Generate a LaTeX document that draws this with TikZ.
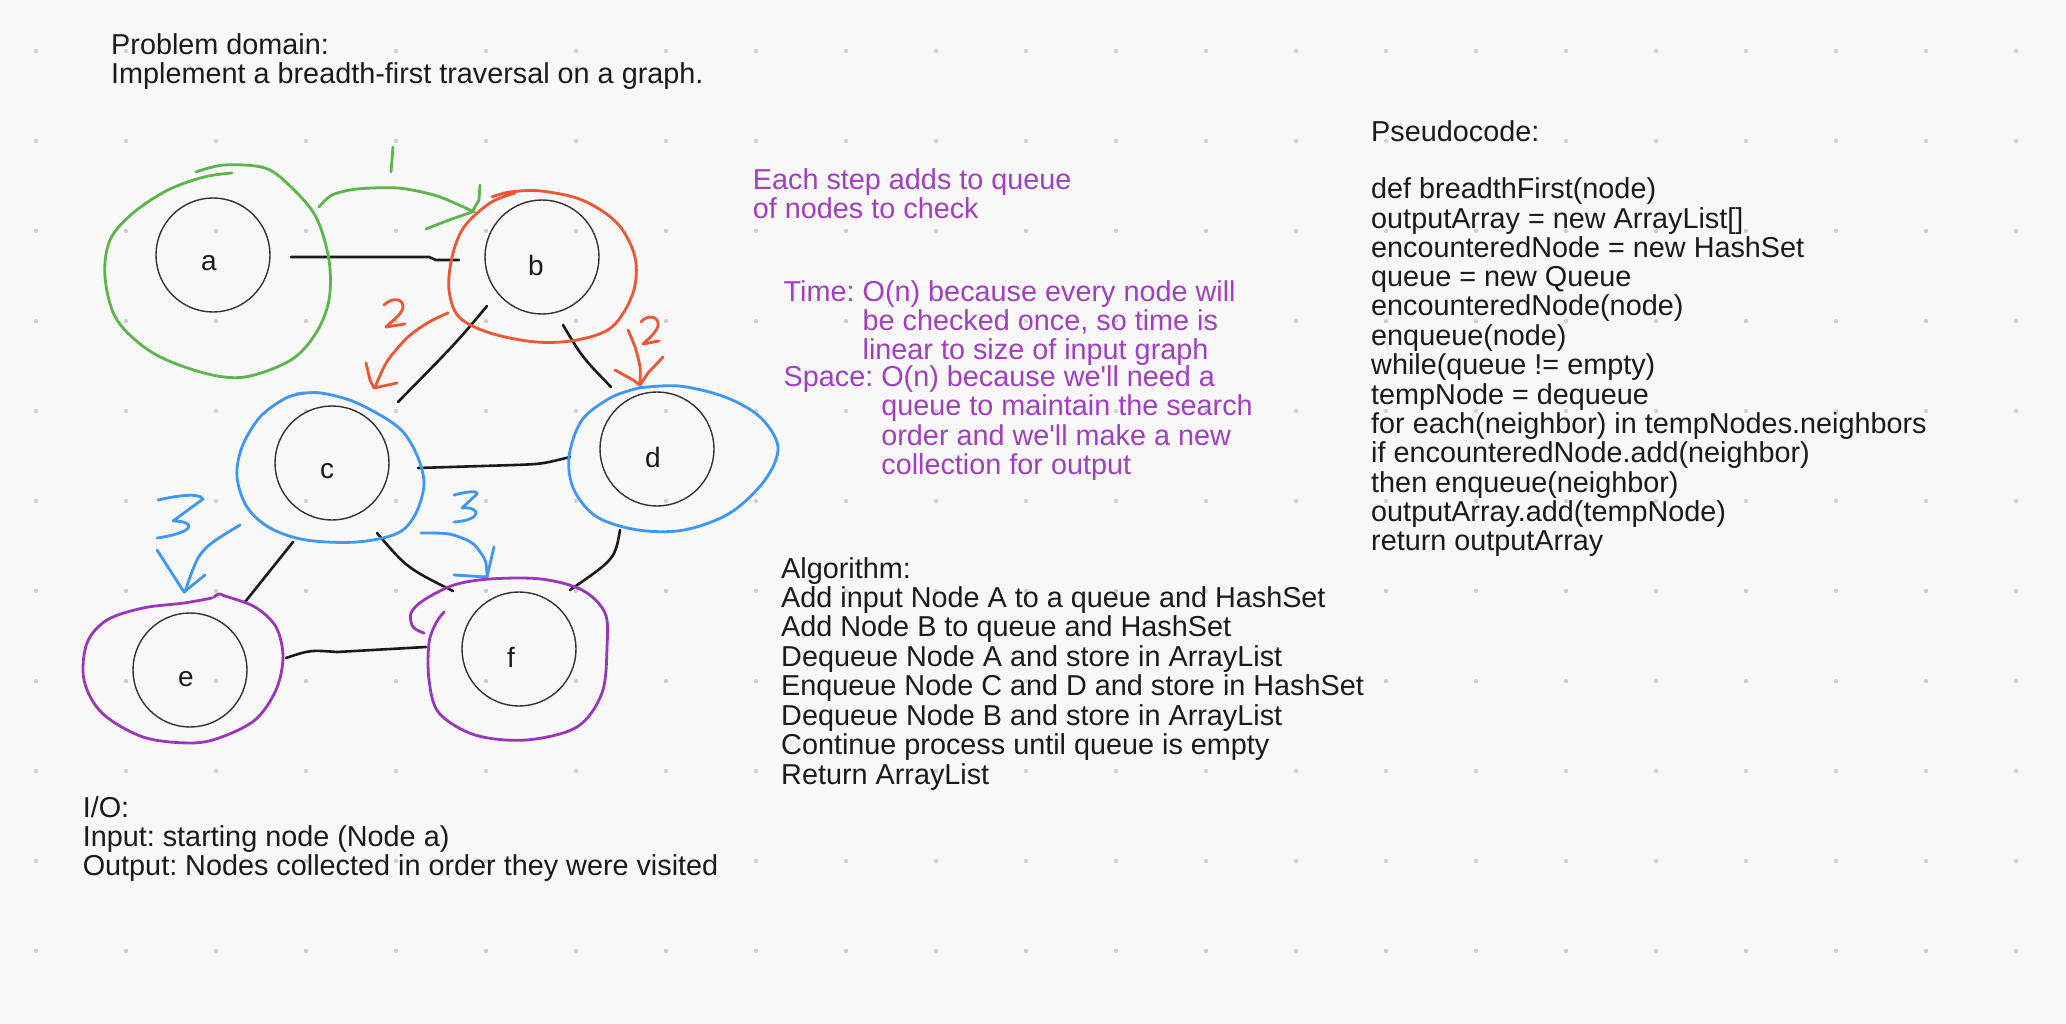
\documentclass[tikz,border=0pt]{standalone}
\usepackage{fontspec}
\setmainfont{Liberation Sans}
\usetikzlibrary{calc}
\definecolor{bg}{HTML}{F8F8F8}
\definecolor{dotc}{HTML}{D0D0D0}
\definecolor{hgreen}{HTML}{5CB54B}
\definecolor{hred}{HTML}{EE5533}
\definecolor{hblue}{HTML}{3D97F5}
\definecolor{hpurple}{HTML}{9B35BE}
\definecolor{tpurple}{HTML}{A23EC2}
\definecolor{ink}{HTML}{1A1A1A}
\begin{document}
\frenchspacing
\begin{tikzpicture}[x=1pt,y=-1pt,
  txt/.style={anchor=north west, inner sep=0, font=\fontsize{28.8}{28.5}\selectfont, text=ink},
  ptxt/.style={txt, text=tpurple},
  vert/.style={circle, draw=black!80, line width=1.4, minimum size=114, inner sep=0},
  vlbl/.style={inner sep=0, font=\fontsize{28}{28}\selectfont, text=ink},
  edge/.style={draw=ink, line width=2.6, line cap=round, line join=round},
  hand/.style={line width=2.8, line cap=round, line join=round},
]
% background and dot grid
\fill[bg] (0,0) rectangle (2066,1024);
\useasboundingbox (0,0) rectangle (2066,1024);
\foreach \i in {0,...,22}{\foreach \j in {0,...,10}{\fill[dotc] ({36+90*\i},{51+90*\j}) circle (2.2);}}

% texts
\node[txt] (prob) at (111,33.3) {\begin{tabular}{@{}l@{}}Problem domain:\\Implement a breadth-first traversal on a graph.\end{tabular}};
\node[ptxt] (each) at (752.7,168.3) {\begin{tabular}{@{}l@{}}Each step adds to queue\\of nodes to check\end{tabular}};
\node[ptxt] (time) at (783.5,280) {\begin{tabular}{@{}l@{\ }l@{}}Time: & O(n) because every node will\\ & be checked once, so time is\\ & linear to size of input graph\end{tabular}};
\node[ptxt] (space) at (783.5,365.5) {\begin{tabular}{@{}l@{\ }l@{}}Space: & O(n) because we\textquotesingle ll need a\\ & queue to maintain the search\\ & order and we\textquotesingle ll make a new\\ & collection for output\end{tabular}};
\node[txt] (algo) at (781,557) {\begin{tabular}{@{}l@{}}Algorithm:\\Add input Node A to a queue and HashSet\\Add Node B to queue and HashSet\\Dequeue Node A and store in ArrayList\\Enqueue Node C and D and store in HashSet\\Dequeue Node B and store in ArrayList\\Continue process until queue is empty\\Return ArrayList\end{tabular}};
\node[txt] (pseudo) at (1371,120) {\begin{tabular}{@{}l@{}}Pseudocode:\\ \\def breadthFirst(node)\\outputArray = new ArrayList[]\\encounteredNode = new HashSet\\queue = new Queue\\encounteredNode(node)\\enqueue(node)\\while(queue != empty)\\tempNode = dequeue\\for each(neighbor) in tempNodes.neighbors\\if encounteredNode.add(neighbor)\\then enqueue(neighbor)\\outputArray.add(tempNode)\\return outputArray\end{tabular}};
\node[txt] (io) at (82.6,796) {\begin{tabular}{@{}l@{}}I/O:\\Input: starting node (Node a)\\Output: Nodes collected in order they were visited\end{tabular}};

% graph vertices
\node[vert] (a) at (213,255) {};
\node[vert] (b) at (542,257) {};
\node[vert] (c) at (332,463) {};
\node[vert] (d) at (657,449) {};
\node[vert] (e) at (190,670) {};
\node[vert] (f) at (519,649) {};
\node[vlbl] (la) at ($(a)+(-4,8)$) {a};
\node[vlbl] (lb) at ($(b)+(-6,8)$) {b};
\node[vlbl] (lc) at ($(c)+(-5,8)$) {c};
\node[vlbl] (ld) at ($(d)+(-4,8)$) {d};
\node[vlbl] (le) at ($(e)+(-4,9)$) {e};
\node[vlbl] (lf) at ($(f)+(-8,8)$) {f};

% black edges
\draw[edge] ($(a)+(78,2)$) -- ($(b)+(-113,0)$) -- ($(b)+(-106,3)$) -- ($(b)+(-83,3)$);
\draw[edge] ($(b)+(-55,49)$) .. controls ($(b)+(-85,85)$) .. ($(c)+(66,-61)$);
\draw[edge] ($(b)+(21,68)$) .. controls ($(b)+(40,100)$) .. ($(d)+(-46,-62)$);
\draw[edge] ($(c)+(86,5)$) -- ($(d)+(-142,16)$) .. controls ($(d)+(-115,15)$) .. ($(d)+(-87,8)$);
\draw[edge] ($(c)+(-39,79)$) -- ($(e)+(55,-68)$);
\draw[edge] ($(c)+(45,70)$) .. controls ($(c)+(75,105)$) .. ($(f)+(-66,-58)$);
\draw[edge] ($(d)+(-37,81)$) .. controls ($(d)+(-42,110)$) .. ($(f)+(51,-59)$);
\draw[edge] ($(e)+(96,-12)$) .. controls ($(e)+(120,-20)$) .. ($(f)+(-182,3)$) -- ($(f)+(-93,-2)$);

% green: node a and step 1
\draw[hand,hgreen] plot[smooth, tension=0.55] coordinates {(196,172) (224,165) (265,168) (291,187) (316,217) (329,260) (329,300) (316,333) (291,360) (245,377) (204,373) (153,353) (117,320) (105,277) (110,240) (133,213) (168,190) (204,177) (232,173)};
\draw[hand,hgreen] plot[smooth] coordinates {(319,207) (332,195) (357,189) (398,188) (434,195) (459,205) (474,212)};
\draw[hand,hgreen] (480,185) -- (479,200) -- (472,212) -- (449,220) -- (426,229);
\draw[hand,hgreen] (393,147) -- (391,172);

% red: node b and step 2
\draw[hand,hred] plot[smooth, tension=0.55] coordinates {(492,197) (510,192) (541,191) (582,200) (617,223) (635,257) (633,293) (612,327) (577,340) (536,342) (490,333) (459,317) (449,290) (452,257) (464,227) (490,203) (515,193)};
\draw[hand,hred] plot[smooth] coordinates {(448,313) (429,322) (408,337) (388,360) (378,380) (375,388)};
\draw[hand,hred] (366,363) -- (370,380) -- (374,388) -- (397,383);
\draw[hand,hred] (384,305) .. controls (392,297) and (404,298) .. (403,308) .. controls (401,315) and (392,321) .. (386,327) -- (405,324);
\draw[hand,hred] plot[smooth] coordinates {(628,330) (635,347) (640,367) (640,384)};
\draw[hand,hred] (615,370) -- (633,380) -- (640,385) -- (648,373) -- (663,357);
\draw[hand,hred] (641,322) .. controls (647,314) and (660,316) .. (658,326) .. controls (656,333) and (648,339) .. (643,344) -- (659,341);

% blue: nodes c, d and step 3
\draw[hand,hblue] plot[smooth, tension=0.55] coordinates {(296,394) (321,393) (357,403) (398,427) (416,453) (424,483) (416,513) (398,533) (357,542) (306,540) (270,528) (247,507) (237,477) (242,447) (260,417) (286,398) (306,393)};
\draw[hand,hblue] plot[smooth, tension=0.55] coordinates {(638,388) (679,386) (725,397) (760,417) (778,447) (765,480) (730,513) (684,530) (638,530) (597,517) (574,490) (569,457) (582,420) (612,397) (643,387)};
\draw[hand,hblue] (158,500) .. controls (180,495) and (200,493) .. (203,499) -- (173,521) .. controls (195,521) and (198,532) .. (157,538);
\draw[hand,hblue] plot[smooth] coordinates {(240,525) (222,536) (208,546) (198,558) (190,577) (185,592)};
\draw[hand,hblue] (157,550) -- (184,592) -- (205,575);
\draw[hand,hblue] (454,495) .. controls (465,492) and (478,490) .. (477,494) -- (462,508) .. controls (480,506) and (484,520) .. (454,522);
\draw[hand,hblue] plot[smooth] coordinates {(421,533) (449,534) (472,543) (485,560) (487,577)};
\draw[hand,hblue] (494,547) -- (487,577) -- (454,575);

% purple: nodes e, f
\draw[hand,hpurple] plot[smooth, tension=0.55] coordinates {(214,597) (219,594) (225,596) (255,607) (276,627) (283,657) (276,690) (255,720) (219,738) (189,743) (143,737) (102,713) (84,680) (87,643) (107,620) (143,608) (184,603) (212,598)};
\draw[hand,hpurple] plot[smooth, tension=0.55] coordinates {(424,633) (413,627) (411,613) (424,600) (454,585) (490,579) (541,579) (582,590) (605,613) (607,647) (602,693) (577,727) (526,740) (475,735) (439,713) (429,680) (429,643) (436,623) (444,612)};
\end{tikzpicture}
\end{document}
